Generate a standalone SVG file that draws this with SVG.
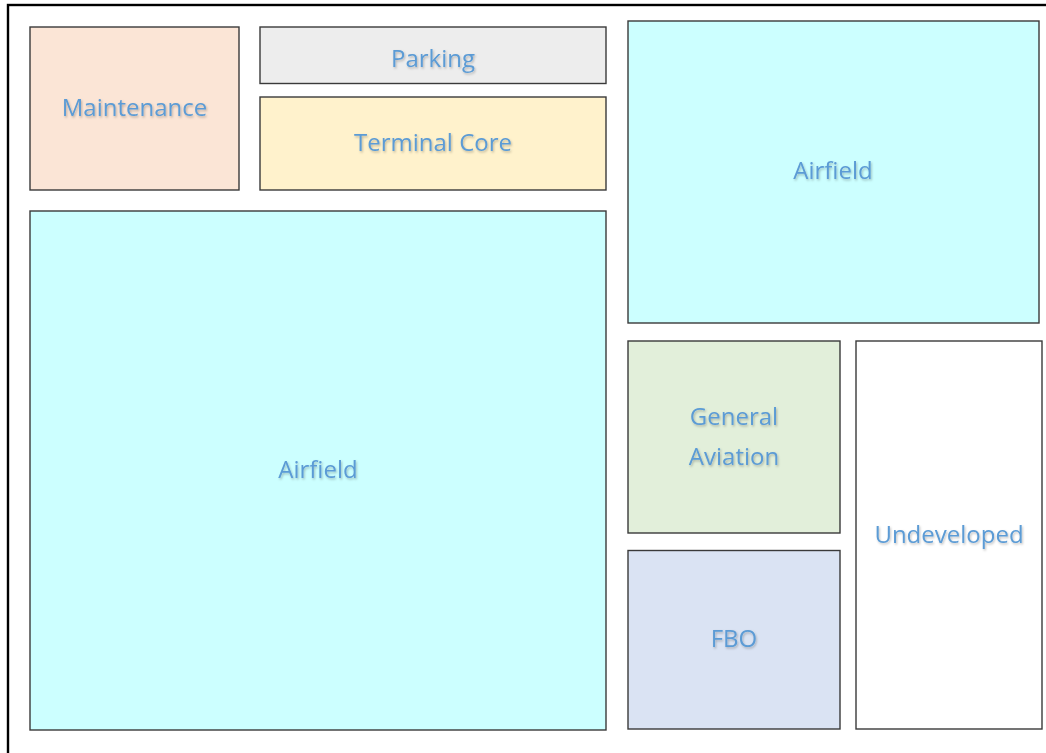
<svg xmlns="http://www.w3.org/2000/svg" width="1046" height="753" viewBox="0 0 1046 753">
<defs>
<style>
.zone{stroke:#3a3a3a;stroke-width:1.4}
.lbl{font-family:"Open Sans","Noto Sans","Liberation Sans",sans-serif;font-size:24px;fill:#5b9bd5;text-anchor:middle;dominant-baseline:central;filter:url(#sh)}
</style>
<filter id="sh" x="-10%" y="-30%" width="120%" height="160%">
<feDropShadow dx="1" dy="1.5" stdDeviation="1" flood-color="#000" flood-opacity="0.25"/>
</filter>
</defs>
<rect x="0" y="0" width="1046" height="753" fill="#fff"/>
<rect x="8" y="5" width="1050" height="760" fill="none" stroke="#000" stroke-width="2.4"/>
<g id="maintenance"><rect class="zone" x="30" y="27" width="209" height="163" fill="#FBE5D6"/><text class="lbl" x="134.5" y="106">Maintenance</text></g>
<g id="parking"><rect class="zone" x="260" y="27" width="346" height="56.5" fill="#EDEDED"/><text class="lbl" x="433" y="57">Parking</text></g>
<g id="terminal-core"><rect class="zone" x="260" y="97" width="346" height="93" fill="#FFF2CC"/><text class="lbl" x="433" y="141">Terminal Core</text></g>
<g id="airfield-main"><rect class="zone" x="30" y="211" width="576" height="519" fill="#CCFFFF"/><text class="lbl" x="318" y="468">Airfield</text></g>
<g id="airfield-ne"><rect class="zone" x="628" y="21" width="411" height="302" fill="#CCFFFF"/><text class="lbl" x="833" y="169">Airfield</text></g>
<g id="general-aviation"><rect class="zone" x="628" y="341" width="212" height="192" fill="#E2EFDA"/><text class="lbl" x="734" y="415">General</text><text class="lbl" x="734" y="455">Aviation</text></g>
<g id="fbo"><rect class="zone" x="628" y="550.5" width="212" height="178.5" fill="#DAE3F3"/><text class="lbl" x="734" y="637">FBO</text></g>
<g id="undeveloped"><rect class="zone" x="856" y="341" width="186" height="388" fill="#FFFFFF"/><text class="lbl" x="949" y="533">Undeveloped</text></g>
<g id="connectors"/>
</svg>
